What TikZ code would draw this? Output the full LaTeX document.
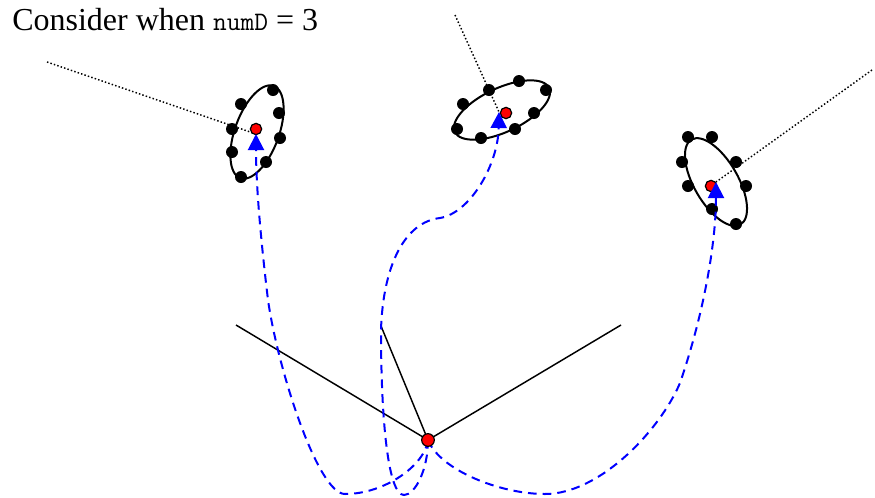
\documentclass[tikz,border=0pt]{standalone}
\usepackage{fontspec}
\setmainfont{Liberation Serif}
\setmonofont{Latin Modern Mono}
\usepackage{tikz}
\usetikzlibrary{arrows.meta}

\tikzset{
  limb/.style={line width=1.1pt},
  route/.style={blue, line width=1.5pt, dash pattern=on 6.5pt off 4.5pt, -{Triangle[length=12pt, width=12pt]}},
  sight/.style={line width=1.1pt, dash pattern=on 1.1pt off 1.6pt},
  rim/.style={line width=1.5pt},
  joint/.style={circle, draw=black, fill=red, line width=0.9pt, inner sep=0pt, minimum size=8.5pt},
  marker/.style={fill=black}
}

\begin{document}
\begin{tikzpicture}[x=0.75pt, y=-0.75pt]
\useasboundingbox (0,0) rectangle (875,497);
% title
\node[anchor=base west, inner sep=0pt] (title) at (12,30)
  {\fontsize{24}{28}\selectfont Consider when {\fontsize{20}{24}\selectfont\ttfamily numD} = 3};

% base point and the three lines
\coordinate (o) at (428,440);
\coordinate (lA) at (236,325);
\coordinate (lB) at (381,326);
\coordinate (lC) at (621,325);
\draw[limb] (lA) -- (o);
\draw[limb] (lB) -- (o);
\draw[limb] (lC) -- (o);

% ellipse centres, arrow tips and far ends of the sight lines
\coordinate (c1) at (257,132);
\coordinate (c2) at (502,110);
\coordinate (c3) at (716,182);
\coordinate (t1) at (256,134);
\coordinate (t2) at (499,112);
\coordinate (t3) at (716,182);
\coordinate (s1) at (47,62);
\coordinate (s2) at (455,15);
\coordinate (s3) at (872,70);

\draw[sight] (s1) -- (t1);
\draw[sight] (s2) -- (t2);
\draw[sight] (s3) -- (t3);

\draw[rim, rotate around={70:(c1)}] (c1) ellipse (49 and 22);
\draw[rim, rotate around={25:(c2)}] (c2) ellipse (52 and 22);
\draw[rim, rotate around={-60:(c3)}] (c3) ellipse (49 and 22);

\foreach \p in {(273,90),(241,104),(279,113),(232,129),(280,138),(232,152),(266,162),(241,177),
                (519,81),(546,90),(489,90),(463,104),(534,113),(457,129),(515,129),(481,138),
                (688,137),(712,137),(682,162),(736,162),(688,186),(746,186),(712,209),(736,224)}
  \fill[marker] \p circle (6);

\node[joint] (r1) at (256,129) {};
\node[joint] (r2) at (506,113) {};
\node[joint] (r3) at (711,186) {};

% dashed routes from the base point
\draw[route] (o) .. controls (425,465) and (385,494) .. (345,494)
  .. controls (318,494) and (278,370) .. (268,300)
  .. controls (262,250) and (256,190) .. (t1);
\draw[route] (o) .. controls (428,470) and (415,495) .. (404,495)
  .. controls (388,495) and (381,420) .. (381,330)
  .. controls (383,265) and (405,222) .. (440,218)
  .. controls (470,213) and (498,165) .. (t2);
\draw[route] (o) .. controls (440,470) and (500,494) .. (545,494)
  .. controls (600,494) and (660,430) .. (680,383)
  .. controls (705,310) and (716,240) .. (t3);

\node[joint, minimum size=9.5pt] (base) at (o) {};
\end{tikzpicture}
\end{document}
